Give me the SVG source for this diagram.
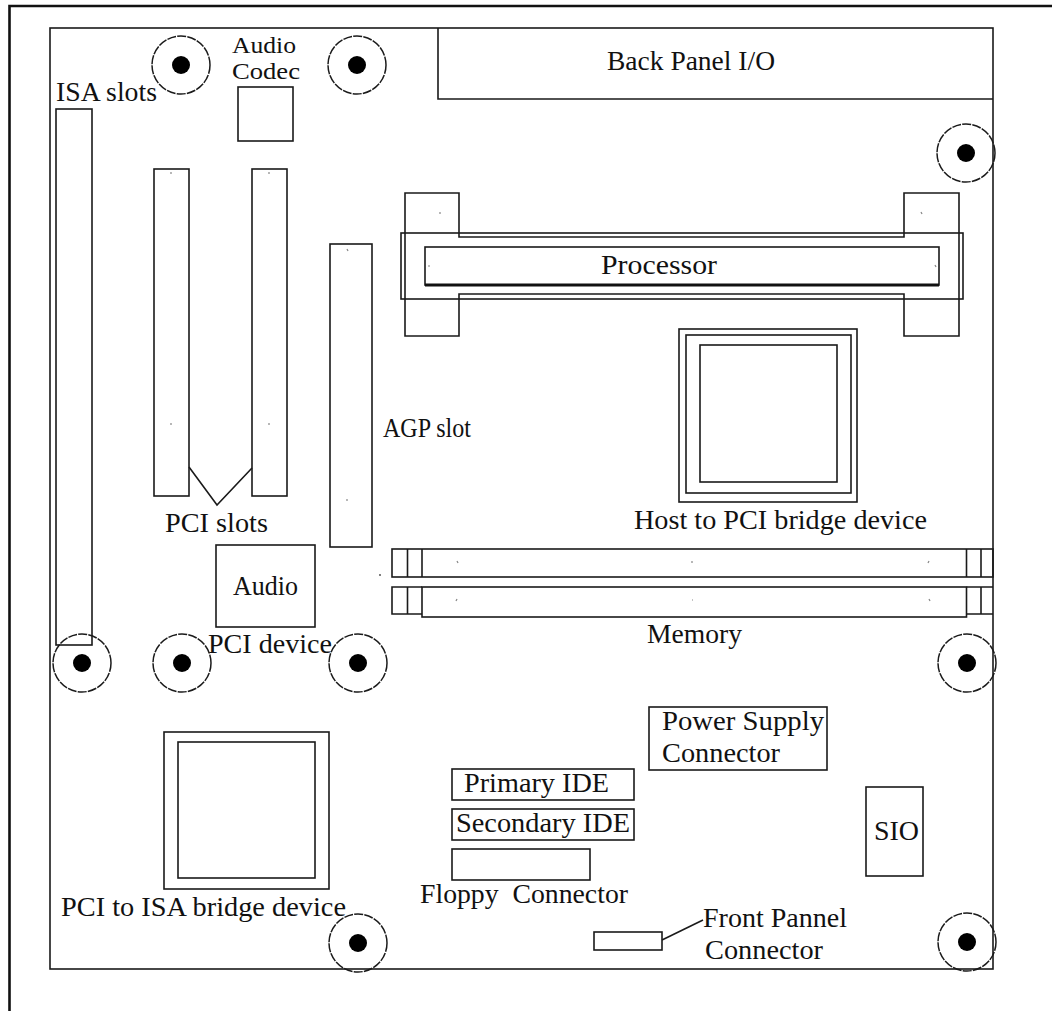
<svg xmlns="http://www.w3.org/2000/svg" width="1053" height="1011" viewBox="0 0 1053 1011">
<style>
.ln{fill:none;stroke:#1a1a1a;stroke-width:1.6}
.th{fill:none;stroke:#111;stroke-width:2.6}
.t{font-family:"Liberation Serif","Times New Roman",serif;font-size:27px;fill:#111}
.ts{font-size:23px}
.tk{stroke:#888;stroke-width:1.2}
.hc{fill:none;stroke:#1a1a1a;stroke-width:1.5;stroke-dasharray:9 1.2}
</style>
<defs>
<g id="hole"><circle r="29" class="hc"/><circle r="9" fill="#000"/></g>
</defs>
<rect width="1053" height="1011" fill="#fff"/>
<path class="th" d="M9.5 1011 V6 H1052"/>
<g id="board"><rect class="ln" x="50" y="28" width="943" height="941"/></g>
<g id="back-panel"><path class="ln" d="M438 28 V99 H993"/><text class="t" x="607" y="70" textLength="168" lengthAdjust="spacingAndGlyphs">Back Panel I/O</text></g>
<g id="holes">
<use href="#hole" x="181" y="65"/>
<use href="#hole" x="357" y="65"/>
<use href="#hole" x="966" y="153"/>
<use href="#hole" x="82" y="663"/>
<use href="#hole" x="182" y="663"/>
<use href="#hole" x="358" y="663"/>
<use href="#hole" x="967" y="663"/>
<use href="#hole" x="358" y="943"/>
<use href="#hole" x="967" y="942"/>
</g>
<g id="isa-slots"><rect class="ln" x="56" y="109" width="36" height="536"/><text class="t" x="56" y="101" textLength="101" lengthAdjust="spacingAndGlyphs">ISA slots</text></g>
<g id="audio-codec"><rect class="ln" x="238" y="87" width="55" height="54"/><text class="t ts" x="232" y="53" textLength="64" lengthAdjust="spacingAndGlyphs">Audio</text><text class="t ts" x="232" y="79" textLength="68" lengthAdjust="spacingAndGlyphs">Codec</text></g>
<g id="pci-slots">
<rect class="ln" x="154" y="169" width="35" height="327"/>
<rect class="ln" x="252" y="169" width="35" height="327"/>
<line class="tk" x1="171" y1="172" x2="171" y2="174"/><line class="tk" x1="269" y1="172" x2="269" y2="174"/>
<line class="tk" x1="171" y1="423" x2="171" y2="425"/><line class="tk" x1="269" y1="423" x2="269" y2="425"/>
<text class="t" x="165" y="532" textLength="103" lengthAdjust="spacingAndGlyphs">PCI slots</text>
</g>
<g id="agp-slot"><rect class="ln" x="330" y="244" width="42" height="303"/>
<line class="tk" x1="347" y1="249" x2="348" y2="251"/><line class="tk" x1="347" y1="499" x2="347" y2="501"/>
<text class="t" x="383" y="437" textLength="88" lengthAdjust="spacingAndGlyphs">AGP slot</text></g>
<g id="audio-pci-device"><rect class="ln" x="216" y="545" width="99" height="82"/><text class="t" x="233" y="595" textLength="65" lengthAdjust="spacingAndGlyphs">Audio</text><text class="t" x="208" y="653" textLength="124" lengthAdjust="spacingAndGlyphs">PCI device</text></g>
<g id="processor">
<path class="ln" d="M405 193 H459 V237 H904 V193 H959 V336 H904 V294 H459 V336 H405 Z"/>
<rect class="ln" x="401" y="233" width="562" height="66"/>
<rect class="ln" x="425" y="247" width="514" height="38"/>
<line x1="425" y1="285" x2="939" y2="285" stroke="#111" stroke-width="3"/>
<line class="tk" x1="440" y1="212" x2="440" y2="214"/><line class="tk" x1="921" y1="212" x2="922" y2="214"/>
<line class="tk" x1="428" y1="266" x2="430" y2="266"/><line class="tk" x1="935" y1="265" x2="936" y2="267"/>
<text class="t" x="601" y="274" textLength="116" lengthAdjust="spacingAndGlyphs">Processor</text>
</g>
<g id="host-pci-bridge">
<rect class="ln" x="679" y="329" width="178" height="173"/>
<rect class="ln" x="686" y="335" width="165" height="158"/>
<rect class="ln" x="700" y="345" width="137" height="137"/>
<text class="t" x="634" y="529" textLength="293" lengthAdjust="spacingAndGlyphs">Host to PCI bridge device</text>
</g>
<g id="memory">
<rect class="ln" x="392" y="549" width="601" height="28"/>
<line class="ln" x1="407.5" y1="549" x2="407.5" y2="577"/><line class="ln" x1="422" y1="549" x2="422" y2="577"/>
<line class="ln" x1="966.5" y1="549" x2="966.5" y2="577"/><line class="ln" x1="981" y1="549" x2="981" y2="577"/>
<path class="ln" d="M422 587 H392 V614 H422 M966.5 587 H993 M966.5 614 H993"/>
<rect class="ln" x="422" y="587" width="544.5" height="30"/>
<line class="ln" x1="407.5" y1="587" x2="407.5" y2="614"/><line class="ln" x1="981" y1="587" x2="981" y2="614"/>
<line class="tk" x1="457" y1="561" x2="458" y2="563"/><line class="tk" x1="692" y1="561" x2="692" y2="563"/><line class="tk" x1="929" y1="561" x2="928" y2="563"/>
<line class="tk" x1="457" y1="599" x2="456" y2="601"/><line class="tk" x1="692" y1="600" x2="693" y2="600"/><line class="tk" x1="929" y1="599" x2="930" y2="601"/>
<circle cx="380" cy="575" r="0.9" fill="#444"/>
<text class="t" x="647" y="643" textLength="95" lengthAdjust="spacingAndGlyphs">Memory</text>
</g>
<g id="pci-isa-bridge">
<rect class="ln" x="164" y="732" width="165" height="157"/>
<rect class="ln" x="178" y="742" width="137" height="136"/>
<text class="t" x="61" y="916" textLength="285" lengthAdjust="spacingAndGlyphs">PCI to ISA bridge device</text>
</g>
<g id="power-supply"><rect class="ln" x="649" y="707" width="178" height="63"/><text class="t" x="662" y="730" textLength="162" lengthAdjust="spacingAndGlyphs">Power Supply</text><text class="t" x="662" y="762" textLength="118" lengthAdjust="spacingAndGlyphs">Connector</text></g>
<g id="primary-ide"><rect class="ln" x="452" y="769" width="182" height="31"/><text class="t" x="464" y="792" textLength="145" lengthAdjust="spacingAndGlyphs">Primary IDE</text></g>
<g id="secondary-ide"><rect class="ln" x="452" y="809" width="182" height="31"/><text class="t" x="456" y="832" textLength="174" lengthAdjust="spacingAndGlyphs">Secondary IDE</text></g>
<g id="floppy"><rect class="ln" x="452" y="849" width="138" height="31"/><text class="t" x="420" y="903" textLength="208" lengthAdjust="spacingAndGlyphs" xml:space="preserve">Floppy  Connector</text></g>
<g id="sio"><rect class="ln" x="866" y="787" width="57" height="89"/><text class="t" x="874" y="840" textLength="45" lengthAdjust="spacingAndGlyphs">SIO</text></g>
<g id="front-panel"><rect class="ln" x="594" y="932" width="68" height="18"/><text class="t" x="703" y="927" textLength="144" lengthAdjust="spacingAndGlyphs">Front Pannel</text><text class="t" x="705" y="959" textLength="118" lengthAdjust="spacingAndGlyphs">Connector</text></g>
<g id="connectors">
<path class="ln" d="M189 467 L217 505 L252 468"/>
<path class="ln" d="M662 940 L703 920"/>
</g>
</svg>
